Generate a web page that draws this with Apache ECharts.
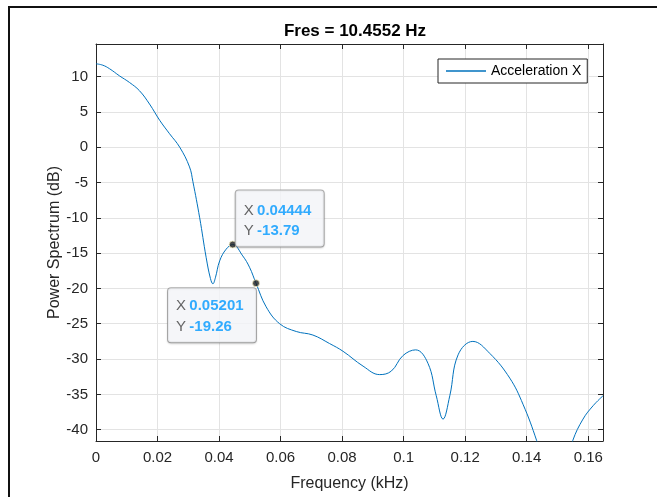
<!DOCTYPE html>
<html>
<head>
<meta charset="utf-8">
<style>
  html, body { margin: 0; padding: 0; background: #fff; }
  #chart { width: 657px; height: 497px; }
</style>
<script src="https://cdn.jsdelivr.net/npm/echarts@6/dist/echarts.min.js"></script>
</head>
<body>
<div id="chart"></div>
<script>
// Power spectrum of the X acceleration channel (frequency in kHz, power in dB)
const freq = [
  0, 0.0022, 0.0044, 0.0076, 0.0109, 0.0141, 0.0174, 0.0207, 0.0239, 0.0272,
  0.0304, 0.0315, 0.0337, 0.0358, 0.0372, 0.038, 0.0388, 0.0402, 0.0423, 0.04444,
  0.0477, 0.0499, 0.05201, 0.0553, 0.0597, 0.0651, 0.0705, 0.0759, 0.0803, 0.0868,
  0.0922, 0.096, 0.0998, 0.1039, 0.1079, 0.1106, 0.1128, 0.115, 0.1177, 0.1225,
  0.128, 0.1345, 0.1388, 0.1432, 0.147, 0.149, 0.152, 0.155, 0.1583, 0.1616, 0.1648
];
const power = [
  11.8, 11.6, 11.1, 10.1, 9.15, 8.0, 6.1, 3.8, 1.9, 0.0,
  -2.8, -4.9, -10.0, -15.6, -18.6, -19.35, -18.5, -16.1, -14.45, -13.79,
  -15.4, -17.0, -19.26, -22.6, -25.0, -26.1, -26.6, -27.8, -28.9, -31.0,
  -32.2, -31.7, -29.5, -28.7, -30.6, -35.2, -38.5, -35.2, -29.4, -27.5,
  -29.2, -32.7, -36.4, -41.5, -47, -49, -46, -41.5, -38.5, -36.6, -35.2
];

// Data tips
const tipX = [0.04444, 0.05201];
const tipY = [-13.79, -19.26];

const titleText = 'Fres = 10.4552 Hz';
const xName = 'Frequency (kHz)';
const yName = 'Power Spectrum (dB)';
const seriesName = 'Acceleration X';

const xMin = 0, xMax = 0.1648, xStep = 0.02;
const yMin = -41.6, yMax = 14.6, yStep = 5;

const FONT = '"Liberation Sans", Arial, Helvetica, sans-serif';
const AXIS_COLOR = '#262626';
const GRID_COLOR = '#e3e3e3';
const LINE_COLOR = '#0072BD';

const chart = echarts.init(document.getElementById('chart'), null, { renderer: 'canvas' });

const curve = freq.map((f, i) => [f, power[i]]);

// label box offsets relative to each tip marker
const tipLabelPos = [[7, -50], [-84, 9]];
const tipPadding = [[10, 8, 6, 8], [7, 8, 5, 8]];
const tipLineHeight = [20, 21];

const tips = tipX.map((x, i) => ({
  value: [x, tipY[i]],
  label: {
    show: true,
    position: tipLabelPos[i],
    align: 'left',
    verticalAlign: 'top',
    formatter: '{k|X} {v|' + x.toFixed(5) + '}\n{k|Y} {v|' + tipY[i].toFixed(2) + '}',
    backgroundColor: '#fafbff',
    borderColor: '#9a9a9a',
    borderWidth: 1,
    borderRadius: 3,
    shadowColor: 'rgba(0,0,0,0.15)',
    shadowBlur: 2,
    shadowOffsetX: 0,
    shadowOffsetY: 1,
    width: 72,
    padding: tipPadding[i],
    lineHeight: tipLineHeight[i],
    rich: {
      k: { fontFamily: FONT, fontSize: 15, color: '#404040', lineHeight: tipLineHeight[i] },
      v: { fontFamily: FONT, fontSize: 15, fontWeight: 'bold', color: '#0099FF', lineHeight: tipLineHeight[i] }
    }
  }
}));

const hiddenLabel = { show: false };

chart.setOption({
  animation: false,
  backgroundColor: '#ffffff',
  title: {
    text: titleText,
    left: 350,
    top: 18,
    textAlign: 'center',
    textStyle: { fontFamily: FONT, fontSize: 17, fontWeight: 'bold', color: '#000' }
  },
  grid: {
    left: 96, top: 44, width: 507, height: 401,
    show: true, backgroundColor: '#fff', borderWidth: 0
  },
  legend: {
    data: [{ name: seriesName, icon: 'rect' }],
    left: 438, top: 59,
    padding: [5, 6, 5, 8],
    itemWidth: 40, itemHeight: 1.5,
    itemGap: 5,
    backgroundColor: '#fff',
    borderColor: '#262626', borderWidth: 1,
    textStyle: { fontFamily: FONT, fontSize: 14, color: '#000' }
  },
  xAxis: [{
    type: 'value', position: 'bottom',
    min: xMin, max: xMax, interval: xStep,
    name: xName, nameLocation: 'middle', nameGap: 35, nameMoveOverlap: false,
    nameTextStyle: { fontFamily: FONT, fontSize: 16, color: AXIS_COLOR },
    axisLine: { show: true, onZero: false, lineStyle: { color: AXIS_COLOR, width: 1 } },
    axisTick: { show: true, inside: true, length: 5, lineStyle: { color: AXIS_COLOR } },
    axisLabel: { fontFamily: FONT, fontSize: 15, color: AXIS_COLOR, margin: 9, showMaxLabel: false },
    splitLine: { show: true, lineStyle: { color: GRID_COLOR, width: 1 } }
  }, {
    type: 'value', position: 'top',
    min: xMin, max: xMax, interval: xStep,
    axisLine: { show: true, onZero: false, lineStyle: { color: AXIS_COLOR, width: 1 } },
    axisTick: { show: true, inside: true, length: 5, lineStyle: { color: AXIS_COLOR } },
    axisLabel: hiddenLabel,
    splitLine: { show: false }
  }],
  yAxis: [{
    type: 'value', position: 'left',
    min: yMin, max: yMax, minInterval: yStep, maxInterval: yStep, splitNumber: 11,
    name: yName, nameLocation: 'middle', nameGap: 33, nameRotate: 90, nameMoveOverlap: false,
    nameTextStyle: { fontFamily: FONT, fontSize: 16, color: AXIS_COLOR },
    axisLine: { show: true, onZero: false, lineStyle: { color: AXIS_COLOR, width: 1 } },
    axisTick: { show: true, inside: true, length: 5, lineStyle: { color: AXIS_COLOR } },
    axisLabel: { fontFamily: FONT, fontSize: 15, color: AXIS_COLOR, margin: 8, showMinLabel: false, showMaxLabel: false },
    splitLine: { show: true, lineStyle: { color: GRID_COLOR, width: 1 } }
  }, {
    type: 'value', position: 'right',
    min: yMin, max: yMax, minInterval: yStep, maxInterval: yStep, splitNumber: 11,
    axisLine: { show: true, onZero: false, lineStyle: { color: AXIS_COLOR, width: 1 } },
    axisTick: { show: true, inside: true, length: 5, lineStyle: { color: AXIS_COLOR } },
    axisLabel: hiddenLabel,
    splitLine: { show: false }
  }],
  graphic: [{
    // figure frame
    type: 'rect',
    shape: { x: 9, y: 7, width: 700, height: 600 },
    style: { fill: null, stroke: '#111', lineWidth: 2 },
    silent: true,
    z: 100
  }],
  series: [{
    name: seriesName,
    type: 'line',
    data: curve,
    smooth: 0.4,
    showSymbol: false,
    clip: true,
    lineStyle: { color: LINE_COLOR, width: 1 },
    itemStyle: { color: LINE_COLOR },
    z: 2
  }, {
    name: 'tips',
    type: 'scatter',
    data: tips,
    symbol: 'circle',
    symbolSize: 7,
    itemStyle: { color: '#1a1a1a', borderColor: '#f3eec0', borderWidth: 1 },
    z: 5
  }]
});
</script>
</body>
</html>
